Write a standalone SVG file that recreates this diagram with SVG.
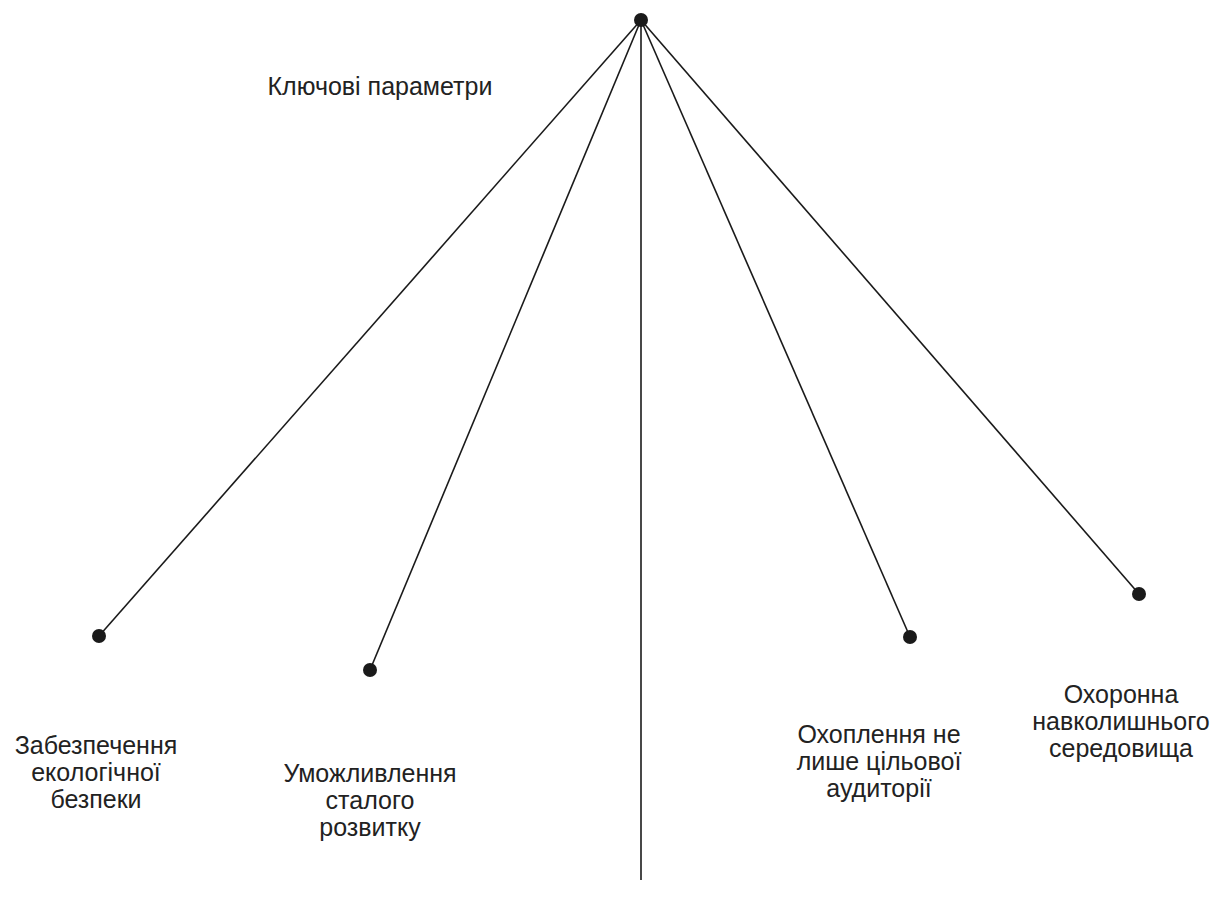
<svg xmlns="http://www.w3.org/2000/svg" width="1219" height="908" viewBox="0 0 1219 908">
<style>
.e{stroke:#1a1a1a;stroke-width:1.6;fill:none}
.d{fill:#1a1a1a}
text{font-family:"Liberation Sans",Arial,sans-serif;font-size:25px;fill:#222;text-anchor:middle}
</style>
<rect width="1219" height="908" fill="#fff"/>
<g id="connectors">
<line class="e" x1="641" y1="20" x2="99" y2="636"/>
<line class="e" x1="641" y1="20" x2="370" y2="670"/>
<line class="e" x1="641" y1="20" x2="641" y2="880"/>
<line class="e" x1="641" y1="20" x2="910" y2="637"/>
<line class="e" x1="641" y1="20" x2="1139" y2="594"/>
</g>
<g id="root"><circle class="d" cx="641" cy="20" r="7"/><text x="380" y="95">Ключові параметри</text></g>
<g id="n1"><circle class="d" cx="99" cy="636" r="7"/><text x="96" y="754">Забезпечення</text><text x="96" y="781">екологічної</text><text x="96" y="808">безпеки</text></g>
<g id="n2"><circle class="d" cx="370" cy="670" r="7"/><text x="370" y="782">Уможливлення</text><text x="370" y="809">сталого</text><text x="370" y="836">розвитку</text></g>
<g id="n3"><circle class="d" cx="910" cy="637" r="7"/><text x="879" y="743">Охоплення не</text><text x="879" y="770">лише цільової</text><text x="879" y="797">аудиторії</text></g>
<g id="n4"><circle class="d" cx="1139" cy="594" r="7"/><text x="1121" y="703">Охоронна</text><text x="1121" y="730">навколишнього</text><text x="1121" y="757">середовища</text></g>
</svg>
